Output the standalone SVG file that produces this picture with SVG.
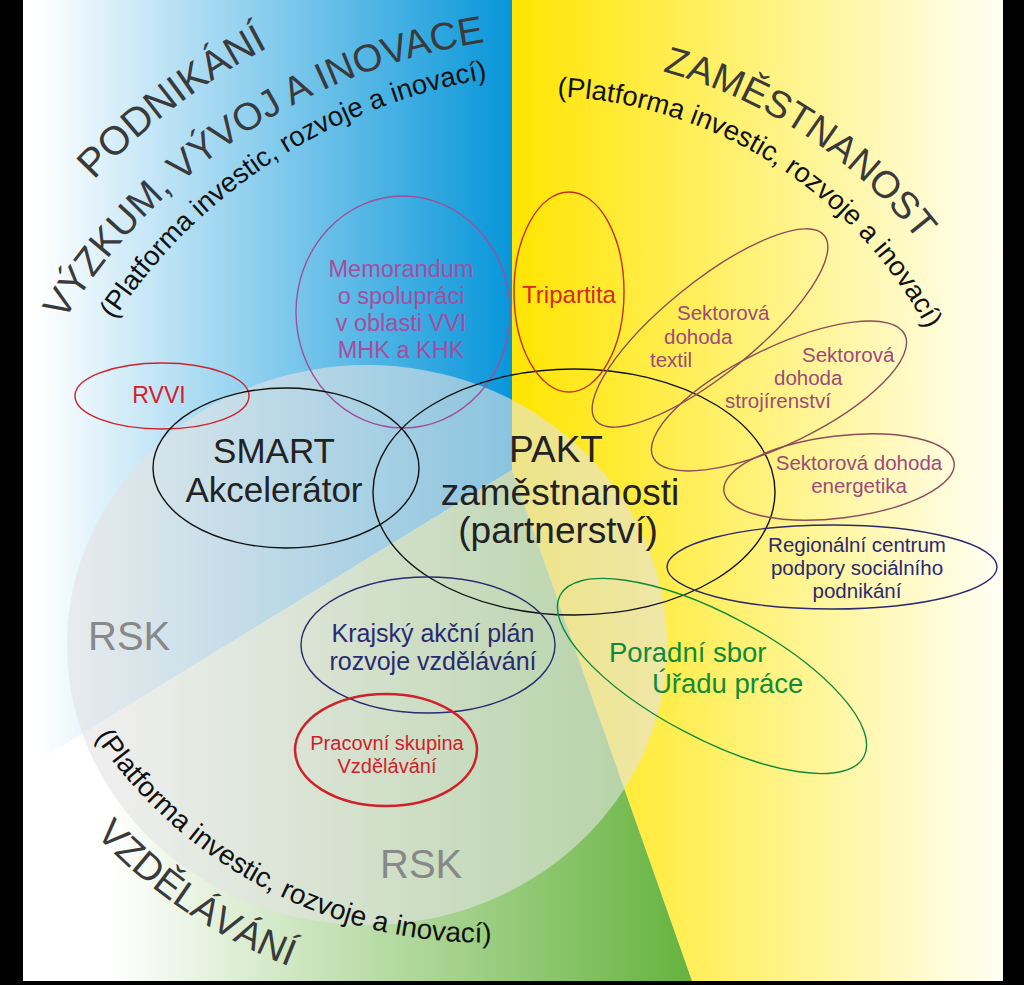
<svg xmlns="http://www.w3.org/2000/svg" width="1024" height="985" viewBox="0 0 1024 985">
<style>
.t{font-family:"Liberation Sans",Arial,sans-serif;}
.head{font-family:"Liberation Sans",Arial,sans-serif;fill:#3a3a3a;font-size:38.5px;}
.plat{font-family:"Liberation Sans",Arial,sans-serif;fill:#111;font-size:27.5px;}
.ell{fill:none;stroke-width:1.4;}
.c{text-anchor:middle;}
</style>
<defs>
<linearGradient id="gBlue" x1="40" y1="0" x2="512" y2="0" gradientUnits="userSpaceOnUse">
<stop offset="0" stop-color="#ffffff"/><stop offset="1" stop-color="#0796da"/>
</linearGradient>
<linearGradient id="gYellow" x1="512" y1="0" x2="1003" y2="0" gradientUnits="userSpaceOnUse">
<stop offset="0" stop-color="#ffe500"/><stop offset="1" stop-color="#fffff6"/>
</linearGradient>
<linearGradient id="gGreen" x1="110" y1="900" x2="690" y2="900" gradientUnits="userSpaceOnUse">
<stop offset="0" stop-color="#ffffff"/><stop offset="1" stop-color="#66b33e"/>
</linearGradient>
<path id="pPod" d="M93.9,180.2 A660,660 0 0 1 517.5,-25.5"/>
<path id="pVyz" d="M64,321 A596,596 0 0 1 678.5,45.1"/>
<path id="pPlatL" d="M113.8,319.8 A553,553 0 0 1 671,80.4"/>
<path id="pZam" d="M662.7,71.4 A482,482 0 0 1 1012.7,620.7"/>
<path id="pPlatR" d="M557.2,96.4 A441,441 0 0 1 972.3,613.6"/>
<path id="pPlatB" d="M95,737 A470,470 0 0 0 718,880"/>
<path id="pVzd" d="M95.4,834.5 A530,530 0 0 0 748,932"/>
</defs>

<g id="background">
<polygon points="23,0 512,0 512,470 23,770" fill="url(#gBlue)"/>
<polygon points="512,0 1003,0 1003,981 692,981 512,470" fill="url(#gYellow)"/>
<polygon points="512,470 692,981 23,981 23,770" fill="url(#gGreen)"/>
<ellipse id="rsk-circle" cx="367" cy="645" rx="300" ry="280" fill="#e2e2e2" fill-opacity="0.6"/>
<rect x="0" y="0" width="23" height="985" fill="#000"/>
<rect x="1003" y="0" width="21" height="985" fill="#000"/>
<rect x="0" y="981" width="1024" height="4" fill="#000"/>
</g>

<g id="headings">
<text class="head" style="font-size:40px"><textPath href="#pPod">PODNIKÁNÍ</textPath></text>
<text class="head"><textPath href="#pVyz">VÝZKUM, VÝVOJ A INOVACE</textPath></text>
<text class="plat"><textPath href="#pPlatL">(Platforma investic, rozvoje a inovací)</textPath></text>
<text class="head" style="font-size:38px"><textPath href="#pZam">ZAMĚSTNANOST</textPath></text>
<text class="plat"><textPath href="#pPlatR">(Platforma investic, rozvoje a inovací)</textPath></text>
<text class="plat" style="font-size:28px"><textPath href="#pPlatB">(Platforma investic, rozvoje a inovací)</textPath></text>
<text class="head" style="font-size:38px"><textPath href="#pVzd">VZDĚLÁVÁNÍ</textPath></text>
<text class="t" x="88" y="650" font-size="40" fill="#888">RSK</text>
<text class="t" x="380" y="878" font-size="40" fill="#888">RSK</text>
</g>

<g id="connectors"></g>

<g id="node-memorandum">
<ellipse class="ell" cx="403" cy="312" rx="107" ry="116" stroke="#a0509a"/>
<text class="t c" x="401" y="277" font-size="23.5" fill="#a84c9e">Memorandum<tspan x="401" y="304">o spolupráci</tspan><tspan x="401" y="331">v oblasti VVI</tspan><tspan x="401" y="358">MHK a KHK</tspan></text>
</g>
<g id="node-rvvi">
<ellipse class="ell" cx="162" cy="396" rx="87" ry="33" stroke="#d0202a"/>
<text class="t c" x="159" y="403" font-size="23" fill="#d0202a">RVVI</text>
</g>
<g id="node-smart">
<ellipse class="ell" cx="286" cy="468" rx="133" ry="80" stroke="#111"/>
<text class="t c" x="274" y="463" font-size="35" fill="#222">SMART<tspan x="274" y="502">Akcelerátor</tspan></text>
</g>
<g id="node-pakt">
<ellipse class="ell" cx="574" cy="492" rx="201" ry="123" stroke="#111"/>
<text class="t c" x="556" y="462" font-size="37" fill="#222">PAKT<tspan x="560" y="505">zaměstnanosti</tspan><tspan x="558" y="543">(partnerství)</tspan></text>
</g>
<g id="node-tripartita">
<ellipse class="ell" cx="569" cy="292" rx="55" ry="100" stroke="#c0301e"/>
<text class="t c" x="569" y="303" font-size="24" fill="#d42a1e">Tripartita</text>
</g>
<g id="node-textil">
<ellipse class="ell" cx="710" cy="328" rx="147" ry="46" transform="rotate(-39 710 328)" stroke="#8c4a5a"/>
<text class="t" x="677" y="320" font-size="20.5" fill="#9c4a7a">Sektorová<tspan x="664" y="344">dohoda</tspan><tspan x="650" y="367">textil</tspan></text>
</g>
<g id="node-strojirenstvi">
<ellipse class="ell" cx="779" cy="396" rx="140" ry="48" transform="rotate(-26 779 396)" stroke="#8c4a5a"/>
<text class="t" x="802" y="362" font-size="20.5" fill="#9c4a7a">Sektorová<tspan x="774" y="385">dohoda</tspan><tspan x="725" y="408">strojírenství</tspan></text>
</g>
<g id="node-energetika">
<ellipse class="ell" cx="839" cy="477" rx="116" ry="41" transform="rotate(-7 839 477)" stroke="#8c4a5a"/>
<text class="t c" x="859" y="470" font-size="20.5" fill="#9c4a7a">Sektorová dohoda<tspan x="859" y="493">energetika</tspan></text>
</g>
<g id="node-regionalni">
<ellipse class="ell" cx="832" cy="567" rx="165" ry="42" stroke="#2a2a70"/>
<text class="t c" x="857" y="552" font-size="20.5" fill="#2a2a70">Regionální centrum<tspan x="857" y="575">podpory sociálního</tspan><tspan x="857" y="598">podnikání</tspan></text>
</g>
<g id="node-poradni">
<ellipse class="ell" cx="712" cy="676" rx="172" ry="62" transform="rotate(28 712 676)" stroke="#108a3a"/>
<text class="t" x="609" y="662" font-size="27.5" fill="#0e8c3c">Poradní sbor<tspan x="652" y="693">Úřadu práce</tspan></text>
</g>
<g id="node-krajsky">
<ellipse class="ell" cx="428" cy="645" rx="127" ry="68" stroke="#2a2a70"/>
<text class="t c" x="433" y="642" font-size="25" fill="#2a2a70">Krajský akční plán<tspan x="433" y="670">rozvoje vzdělávání</tspan></text>
</g>
<g id="node-pracovni">
<ellipse cx="386" cy="750" rx="91" ry="56" fill="none" stroke="#d0202a" stroke-width="2.5"/>
<text class="t c" x="387" y="750" font-size="20" fill="#d0202a">Pracovní skupina<tspan x="387" y="773">Vzdělávání</tspan></text>
</g>
</svg>
